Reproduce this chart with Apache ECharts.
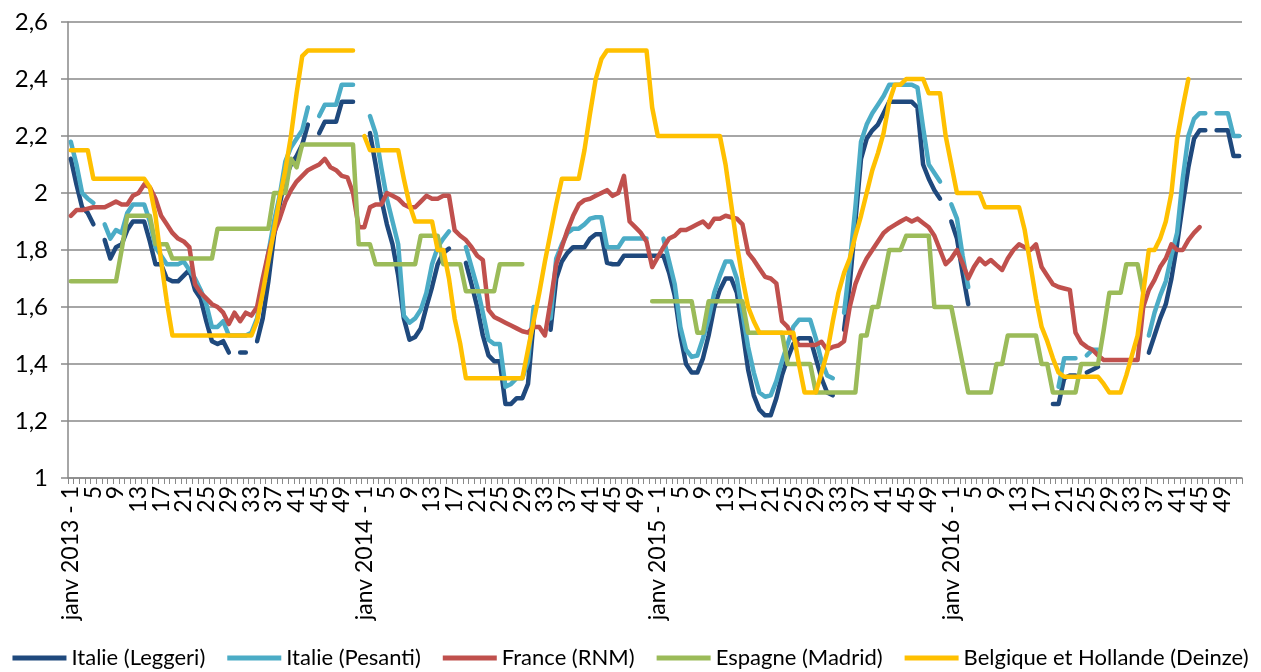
<!DOCTYPE html>
<html><head><meta charset="utf-8">
<script src="https://cdn.jsdelivr.net/npm/echarts@6/dist/echarts.min.js"></script>
<style>html,body{margin:0;padding:0;background:#fff}#c{width:1261px;height:672px}</style>
</head><body><div id="c"></div>
<script>
// ---- data ----
const years = [2013, 2014, 2015, 2016];
const weeksPerYear = 52;
const labelEvery = 4;
const categories = [];
for (const y of years) for (let w = 1; w <= weeksPerYear; w++) categories.push(w === 1 ? 'janv ' + y + ' - 1' : String(w));

const yMin = 1, yMax = 2.6, yStep = 0.2;

const seriesNames = ['Italie (Leggeri)', 'Italie (Pesanti)', 'France (RNM)', 'Espagne (Madrid)', 'Belgique et Hollande (Deinze)'];
const seriesColors = ['#1F497D', '#4BACC6', '#C0504D', '#9BBB59', '#FFC000'];

const italieLeggeri = [
 2.12,2.03,1.95,1.93,1.89,null,1.835,1.77,1.81,1.82,
 1.87,1.9,1.9,1.9,1.83,1.75,1.75,1.7,1.69,1.69,
 1.71,1.73,1.66,1.63,1.55,1.48,1.47,1.48,1.44,null,
 1.44,1.44,null,1.48,1.56,1.69,1.85,1.96,2.05,2.1,
 2.13,2.17,2.24,null,2.21,2.25,2.25,2.25,2.32,2.32,
 2.32,null,
 null,2.21,2.1,1.98,1.89,1.82,1.71,1.56,1.485,1.495,
 1.525,1.6,1.67,1.75,1.79,1.805,null,null,1.755,1.68,
 1.6,1.5,1.43,1.41,1.41,1.26,1.26,1.28,1.28,1.33,
 1.55,null,null,1.52,1.7,1.76,1.79,1.81,1.81,1.81,
 1.84,1.855,1.855,1.755,1.75,1.75,1.78,1.78,1.78,1.78,
 1.78,1.78,
 1.78,1.78,1.72,1.64,1.5,1.4,1.37,1.37,1.42,1.5,
 1.6,1.66,1.7,1.7,1.65,1.52,1.38,1.29,1.24,1.22,
 1.22,1.28,1.36,1.42,1.47,1.49,1.49,1.49,1.42,1.35,
 1.3,1.29,null,1.52,1.68,1.9,2.12,2.19,2.22,2.24,
 2.28,2.32,2.32,2.32,2.32,2.32,2.3,2.1,2.05,2.01,
 1.98,null,
 1.9,1.84,1.72,1.61,null,null,null,null,null,null,
 null,null,null,null,null,null,null,null,1.26,1.26,
 1.35,1.36,1.36,null,1.37,1.38,1.39,null,null,null,
 null,null,null,null,null,1.44,1.5,1.56,1.61,1.7,
 1.82,1.96,2.09,2.19,2.22,2.22,null,2.22,2.22,2.22,
 2.13,2.13
];

const italiePesanti = [
 2.18,2.1,2.0,1.98,1.965,null,1.89,1.84,1.87,1.86,
 1.93,1.96,1.96,1.96,1.9,1.81,1.78,1.75,1.75,1.75,
 1.76,1.73,1.7,1.66,1.61,1.53,1.53,1.55,1.5,1.5,
 1.5,1.5,1.51,1.56,1.67,1.79,1.9,1.99,2.11,2.16,
 2.19,2.22,2.3,null,2.27,2.31,2.31,2.31,2.38,2.38,
 2.38,null,
 null,2.27,2.21,2.09,1.98,1.9,1.82,1.57,1.545,1.56,
 1.59,1.65,1.75,1.81,1.84,1.865,null,null,1.81,1.74,
 1.67,1.58,1.485,1.47,1.47,1.32,1.33,1.35,1.35,1.41,
 1.6,null,null,1.56,1.77,1.82,1.86,1.875,1.875,1.89,
 1.91,1.915,1.915,1.81,1.81,1.81,1.84,1.84,1.84,1.84,
 1.84,null,
 null,1.84,1.76,1.68,1.53,1.45,1.425,1.43,1.49,1.56,
 1.65,1.71,1.76,1.76,1.7,1.58,1.46,1.37,1.3,1.285,
 1.29,1.34,1.41,1.47,1.53,1.555,1.555,1.555,1.49,1.41,
 1.36,1.35,null,1.58,1.75,1.95,2.18,2.24,2.28,2.31,
 2.34,2.38,2.38,2.38,2.38,2.38,2.37,2.23,2.1,2.07,
 2.04,null,
 1.96,1.91,1.78,1.67,null,null,null,null,null,null,
 null,null,null,null,null,null,null,null,null,1.32,
 1.42,1.42,1.42,null,1.43,1.45,1.45,null,null,null,
 null,null,null,null,null,1.5,1.58,1.64,1.69,1.78,
 1.86,2.05,2.2,2.26,2.28,2.28,null,2.28,2.28,2.28,
 2.2,2.2
];

const franceRNM = [
 1.92,1.94,1.94,1.945,1.95,1.95,1.95,1.96,1.97,1.96,
 1.96,1.99,2.0,2.03,2.02,1.98,1.92,1.89,1.86,1.84,
 1.83,1.81,1.68,1.65,1.63,1.61,1.6,1.58,1.54,1.58,
 1.55,1.58,1.57,1.6,1.7,1.79,1.86,1.91,1.97,2.01,
 2.04,2.06,2.08,2.09,2.1,2.12,2.09,2.08,2.06,2.055,
 2.0,1.88,
 1.88,1.95,1.96,1.96,2.0,1.99,1.98,1.96,1.95,1.95,
 1.97,1.99,1.98,1.98,1.99,1.99,1.87,1.85,1.835,1.81,
 1.78,1.765,1.59,1.565,1.555,1.545,1.535,1.525,1.515,1.51,
 1.53,1.53,1.5,1.62,1.75,1.81,1.87,1.92,1.96,1.975,
 1.98,1.99,2.0,2.01,1.99,2.0,2.06,1.9,1.88,1.86,
 1.83,1.74,
 1.775,1.81,1.84,1.85,1.87,1.87,1.88,1.89,1.9,1.88,
 1.91,1.91,1.92,1.915,1.91,1.89,1.79,1.765,1.735,1.706,
 1.7,1.683,1.55,1.53,1.49,1.467,1.467,1.467,1.467,1.478,
 1.45,1.46,1.465,1.48,1.6,1.68,1.73,1.77,1.8,1.83,
 1.86,1.876,1.888,1.9,1.911,1.9,1.91,1.895,1.88,1.85,
 1.8,1.75,
 1.77,1.8,1.753,1.7,1.74,1.77,1.75,1.765,1.747,1.73,
 1.77,1.8,1.82,1.81,1.8,1.82,1.74,1.71,1.68,1.67,
 1.665,1.66,1.51,1.475,1.46,1.45,1.43,1.414,1.414,1.414,
 1.414,1.414,1.414,1.414,1.6,1.66,1.695,1.74,1.77,1.82,
 1.8,1.8,1.835,1.86,1.88,null,null,null,null,null,
 null,null
];

const espagneMadrid = [
 1.69,1.69,1.69,1.69,1.69,1.69,1.69,1.69,1.69,1.8,
 1.92,1.92,1.92,1.92,1.92,1.82,1.82,1.82,1.77,1.77,
 1.77,1.77,1.77,1.77,1.77,1.77,1.875,1.875,1.875,1.875,
 1.875,1.875,1.875,1.875,1.875,1.875,2.0,2.0,2.0,2.12,
 2.09,2.17,2.17,2.17,2.17,2.17,2.17,2.17,2.17,2.17,
 2.17,1.82,
 1.82,1.82,1.75,1.75,1.75,1.75,1.75,1.75,1.75,1.75,
 1.85,1.85,1.85,1.85,1.75,1.75,1.75,1.75,1.655,1.655,
 1.655,1.655,1.655,1.655,1.75,1.75,1.75,1.75,1.75,null,
 null,null,null,null,null,null,null,null,null,null,
 null,null,null,null,null,null,null,null,null,null,
 null,1.62,
 1.62,1.62,1.62,1.62,1.62,1.62,1.62,1.51,1.51,1.62,
 1.62,1.62,1.62,1.62,1.62,1.62,1.51,1.51,1.51,1.51,
 1.51,1.51,1.51,1.4,1.4,1.4,1.4,1.4,1.3,1.3,
 1.3,1.3,1.3,1.3,1.3,1.3,1.5,1.5,1.6,1.6,
 1.7,1.8,1.8,1.8,1.85,1.85,1.85,1.85,1.85,1.6,
 1.6,1.6,
 1.6,1.5,1.4,1.3,1.3,1.3,1.3,1.3,1.4,1.4,
 1.5,1.5,1.5,1.5,1.5,1.5,1.4,1.4,1.3,1.3,
 1.3,1.3,1.3,1.4,1.4,1.4,1.4,1.52,1.65,1.65,
 1.65,1.75,1.75,1.75,1.65,null,null,null,null,null,
 null,null,null,null,null,null,null,null,null,null,
 null,null
];

const belgiqueDeinze = [
 2.15,2.15,2.15,2.15,2.05,2.05,2.05,2.05,2.05,2.05,
 2.05,2.05,2.05,2.05,2.02,1.92,1.76,1.62,1.5,1.5,
 1.5,1.5,1.5,1.5,1.5,1.5,1.5,1.5,1.5,1.5,
 1.5,1.5,1.5,1.55,1.65,1.76,1.87,1.98,2.08,2.2,
 2.35,2.48,2.5,2.5,2.5,2.5,2.5,2.5,2.5,2.5,
 2.5,null,
 2.2,2.15,2.15,2.15,2.15,2.15,2.15,2.05,1.96,1.9,
 1.9,1.9,1.9,1.8,1.8,1.7,1.56,1.47,1.35,1.35,
 1.35,1.35,1.35,1.35,1.35,1.35,1.35,1.35,1.35,1.45,
 1.55,1.65,1.76,1.86,1.96,2.05,2.05,2.05,2.05,2.15,
 2.28,2.4,2.47,2.5,2.5,2.5,2.5,2.5,2.5,2.5,
 2.5,2.3,
 2.2,2.2,2.2,2.2,2.2,2.2,2.2,2.2,2.2,2.2,
 2.2,2.2,2.1,1.96,1.82,1.7,1.6,1.55,1.51,1.51,
 1.51,1.51,1.51,1.51,1.51,1.4,1.3,1.3,1.3,1.37,
 1.44,1.55,1.65,1.72,1.77,1.85,1.92,2.0,2.08,2.14,
 2.21,2.32,2.38,2.38,2.4,2.4,2.4,2.4,2.35,2.35,
 2.35,2.2,
 2.1,2.0,2.0,2.0,2.0,2.0,1.95,1.95,1.95,1.95,
 1.95,1.95,1.95,1.87,1.75,1.63,1.53,1.48,1.42,1.37,
 1.355,1.355,1.355,1.355,1.355,1.355,1.355,1.33,1.3,1.3,
 1.3,1.36,1.43,1.5,1.65,1.8,1.8,1.84,1.9,2.0,
 2.19,2.3,2.4,null,null,null,null,null,null,null,
 null,null
];

const seriesData = [italieLeggeri, italiePesanti, franceRNM, espagneMadrid, belgiqueDeinze];

// ---- chart ----
const FONT = 'Lato';
const GRID = '#898989';
const chart = echarts.init(document.getElementById('c'), null, {renderer: 'canvas'});
chart.setOption({
  animation: false,
  color: seriesColors,
  grid: {left: 68, right: 19, top: 22, bottom: 194, containLabel: false},
  xAxis: {
    type: 'category',
    data: categories,
    boundaryGap: true,
    axisLine: {show: true, lineStyle: {color: GRID, width: 1.5}},
    axisTick: {show: true, interval: 0, length: 6, lineStyle: {color: GRID, width: 1}},
    axisLabel: {interval: 0, rotate: 90, margin: 8, color: '#000', fontFamily: FONT, fontSize: 23,
      hideOverlap: false,
      formatter: (v, idx) => (idx % labelEvery === 0 ? v : '')}
  },
  yAxis: {
    type: 'value', min: yMin, max: yMax, interval: yStep,
    axisLine: {show: true, lineStyle: {color: GRID, width: 1.5}},
    axisTick: {show: true, length: 7, lineStyle: {color: GRID, width: 1.5}},
    splitLine: {show: true, lineStyle: {color: GRID, width: 1.5}},
    axisLabel: {
      margin: 20, color: '#000', fontFamily: FONT, fontSize: 24,
      formatter: v => String(Math.round(v * 10) / 10).replace('.', ',')
    }
  },
  legend: {
    top: 642, left: 'center', icon: 'rect', itemWidth: 54, itemHeight: 5, itemGap: 22,
    textStyle: {color: '#000', fontFamily: FONT, fontSize: 22},
    data: seriesNames
  },
  series: seriesNames.map((name, k) => ({
    name: name, type: 'line', data: seriesData[k],
    showSymbol: false, symbol: 'none', connectNulls: false, smooth: false,
    lineStyle: {width: 4.5, color: seriesColors[k], cap: 'round', join: 'round'},
    emphasis: {disabled: true}
  }))
});
</script></body></html>
